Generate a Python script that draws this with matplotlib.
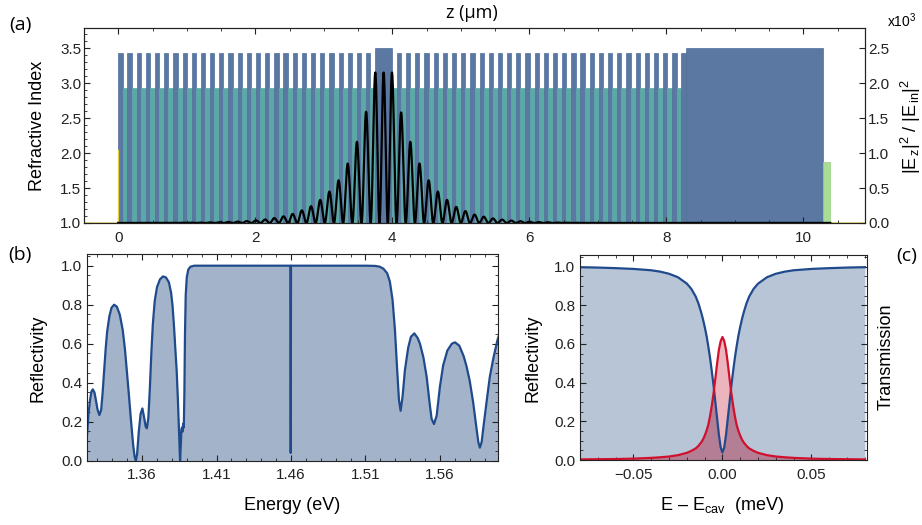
import numpy as np
import matplotlib.pyplot as plt
from matplotlib.ticker import MultipleLocator, FixedLocator, FuncFormatter

plt.rcParams['font.family'] = ['Liberation Sans', 'DejaVu Sans']
plt.rcParams['mathtext.fontset'] = 'custom'
plt.rcParams['mathtext.rm'] = 'Liberation Sans'
plt.rcParams['mathtext.it'] = 'Liberation Sans'
plt.rcParams['mathtext.default'] = 'regular'

W, H = 922, 525

# ---- (a) layer stack (thickness in um) ----
n_high, n_low, n_cav, n_sub, n_cap = 3.43, 2.93, 3.50, 3.50, 1.87
d_high, d_low, d_cav, d_sub, d_cap = 0.062, 0.072, 0.243, 2.0, 0.11
pairs_front, pairs_back = 28, 32

# |E_z|^2/|E_in|^2 antinode heights (x10^3), going outwards from the cavity
peaks_cavity = [2.15, 2.15, 2.15]
peaks_front = [1.59, 1.16, 0.85, 0.61, 0.45, 0.33, 0.24, 0.18, 0.13, 0.095,
               0.07, 0.05, 0.037, 0.027, 0.02, 0.015, 0.011, 0.008, 0.006, 0.005,
               0.004, 0.003, 0.003, 0.002, 0.002, 0.002, 0.002, 0.002]
peaks_back = [1.58, 1.16, 0.85, 0.61, 0.45, 0.33, 0.23, 0.17, 0.12, 0.09,
              0.065, 0.048, 0.035, 0.025, 0.018, 0.013, 0.01, 0.007, 0.005, 0.004,
              0.003, 0.002, 0.002, 0.002, 0.001, 0.001, 0.001, 0.001, 0.001, 0.001,
              0.001, 0.001]
field_substrate = 0.001

# ---- (b) reflectivity spectrum ----
energy_b = [1.3230, 1.3240, 1.3250, 1.3260, 1.3269, 1.3280, 1.3290, 1.3300, 1.3313, 1.3325,
            1.3335, 1.3345, 1.3355, 1.3365, 1.3380, 1.3395, 1.3412, 1.3430, 1.3450, 1.3470,
            1.3485, 1.3497, 1.3510, 1.3525, 1.3540, 1.3550, 1.3558, 1.3566, 1.3578, 1.3590,
            1.3602, 1.3614, 1.3624, 1.3632, 1.3642, 1.3652, 1.3662, 1.3672, 1.3685, 1.3700,
            1.3720, 1.3740, 1.3760, 1.3780, 1.3795, 1.3805, 1.3815, 1.3825, 1.3832, 1.3840,
            1.3848, 1.3855, 1.3860, 1.3864, 1.3868, 1.3872, 1.3876, 1.3880, 1.3884, 1.3888,
            1.3893, 1.3900, 1.3910, 1.3925, 1.3950, 1.4596, 1.4598, 1.4600, 1.5100, 1.5164,
            1.5195, 1.5220, 1.5246, 1.5264, 1.5282, 1.5298, 1.5313, 1.5325, 1.5336, 1.5349,
            1.5365, 1.5387, 1.5405, 1.5428, 1.5450, 1.5466, 1.5489, 1.5511, 1.5530, 1.5544,
            1.5560, 1.5578, 1.5600, 1.5622, 1.5650, 1.5680, 1.5701, 1.5730, 1.5760, 1.5779,
            1.5800, 1.5823, 1.5845, 1.5858, 1.5868, 1.5880, 1.5895, 1.5913, 1.5935, 1.5960,
            1.5987, 1.6000]
refl_b = [0.13, 0.24, 0.31, 0.355, 0.366, 0.35, 0.31, 0.265, 0.234, 0.26,
          0.35, 0.46, 0.57, 0.66, 0.74, 0.785, 0.80, 0.79, 0.75, 0.67,
          0.57, 0.465, 0.35, 0.21, 0.08, 0.02, 0.0, 0.03, 0.15, 0.24,
          0.268, 0.22, 0.175, 0.166, 0.22, 0.37, 0.55, 0.70, 0.82, 0.89,
          0.93, 0.945, 0.94, 0.915, 0.86, 0.79, 0.68, 0.55, 0.465, 0.32,
          0.15, 0.0, 0.08, 0.16, 0.17, 0.15, 0.19, 0.17, 0.35, 0.65,
          0.85, 0.94, 0.98, 0.995, 1.0, 1.0, 0.04, 1.0, 1.0, 0.999,
          0.995, 0.985, 0.961, 0.918, 0.824, 0.67, 0.465, 0.311, 0.256, 0.328,
          0.465, 0.58, 0.635, 0.653, 0.63, 0.60, 0.53, 0.43, 0.30, 0.215,
          0.188, 0.23, 0.38, 0.49, 0.565, 0.60, 0.607, 0.59, 0.535, 0.483,
          0.41, 0.30, 0.17, 0.095, 0.067, 0.095, 0.19, 0.30, 0.43, 0.53,
          0.62, 0.65]

# ---- (c) zoom on the cavity mode (E - E_cav in meV, one side, symmetric) ----
detuning = [0, 0.001, 0.002, 0.003, 0.004, 0.005, 0.006, 0.007, 0.008, 0.009,
            0.010, 0.011, 0.012, 0.0135, 0.015, 0.0175, 0.020, 0.025, 0.030, 0.035,
            0.040, 0.050, 0.060, 0.070, 0.080]
refl_c = [0.039, 0.065, 0.13, 0.215, 0.30, 0.385, 0.46, 0.53, 0.59, 0.645,
          0.69, 0.73, 0.765, 0.81, 0.845, 0.885, 0.912, 0.945, 0.963, 0.974,
          0.981, 0.988, 0.992, 0.995, 0.997]
trans_c = [0.636, 0.615, 0.57, 0.50, 0.42, 0.345, 0.28, 0.225, 0.18, 0.15,
           0.125, 0.105, 0.09, 0.073, 0.06, 0.047, 0.037, 0.025, 0.018, 0.014,
           0.011, 0.007, 0.005, 0.004, 0.003]

c_high = '#5a78a2'
c_low = '#5ba9a7'
c_cap = '#a9dd93'
c_air = '#f4eaa0'
c_line = '#1f4a8c'
c_red = '#d0102c'
c_fill_b = '#a3b3ca'
c_fill_c = '#b8c5d7'
c_pink = '#ecb5bd'
c_mauve = '#b47e94'
c_frame = '#222222'

TICK = 11


def fmt(spec):
    return FuncFormatter(lambda v, p: (spec % v).replace('-', '\u2212'))


def fpos(x, y):
    return x / W, 1 - y / H


def axes_px(l, t, r, b):
    return fig.add_axes([l / W, 1 - b / H, (r - l) / W, (b - t) / H])


def frame(ax, ypad=3.5, xpad=5.5):
    for s in ax.spines.values():
        s.set_linewidth(0.8)
        s.set_color(c_frame)
    ax.tick_params(which='both', direction='in', top=True, right=True,
                   labelsize=TICK, colors=c_frame)
    ax.tick_params(which='major', length=4, width=0.8)
    ax.tick_params(which='minor', length=2.3, width=0.6)
    ax.tick_params(axis='y', pad=ypad)
    ax.tick_params(axis='x', pad=xpad)


fig = plt.figure(figsize=(W / 100, H / 100), dpi=100)

# ================= (a) =================
ax = axes_px(84, 28, 865, 223)
kinds = ['H', 'L'] * pairs_front + ['C'] + ['L', 'H'] * pairs_back + ['S', 'G']
thick = {'H': d_high, 'L': d_low, 'C': d_cav, 'S': d_sub, 'G': d_cap}
index = {'H': n_high, 'L': n_low, 'C': n_cav, 'S': n_sub, 'G': n_cap}
fill = {'H': c_high, 'L': c_low, 'C': c_high, 'S': c_high, 'G': c_cap}
edge = {'H': '#4f6d98', 'L': c_low, 'C': '#4f6d98', 'S': '#4f6d98', 'G': '#98cf82'}
widths = np.array([thick[k] for k in kinds])
lefts = np.concatenate([[0], np.cumsum(widths)[:-1]])
heights = np.array([index[k] for k in kinds]) - 1
ax.bar(lefts, heights, width=widths, bottom=1, align='edge',
       color=[fill[k] for k in kinds], edgecolor=[edge[k] for k in kinds], linewidth=0.5)
z_end = lefts[-1] + widths[-1]
ax.bar([-0.5, z_end], [0.02, 0.02], width=[0.5, 10.9 - z_end], bottom=1, align='edge',
       color=c_air, edgecolor='#e8d86a', linewidth=0.5)
ax.plot([0, 0], [1, 2.05], color='#e6d23c', lw=0.9)

ax.set_xlim(-0.5, 10.9)
ax.set_ylim(1.0, 3.786)
frame(ax, ypad=2)
ax.tick_params(right=False, which='both')
ax.xaxis.set_major_locator(FixedLocator([0, 2, 4, 6, 8, 10]))
ax.xaxis.set_minor_locator(MultipleLocator(0.5))
ax.yaxis.set_major_locator(MultipleLocator(0.5))
ax.yaxis.set_minor_locator(MultipleLocator(0.1))
ax.yaxis.set_major_formatter(fmt('%.1f'))

# field profile: one cos^2 lobe per antinode
period = d_high + d_low
z_cs = pairs_front * period
z_ce = z_cs + d_cav
pk_z = [z_cs - k * period for k in range(len(peaks_front), 0, -1)]
pk_z += [z_cs, z_cs + d_cav / 2, z_ce]
pk_z += [z_ce + k * period for k in range(1, len(peaks_back) + 1)]
pk_h = peaks_front[::-1] + peaks_cavity + peaks_back
zz, ee = [], []
t = np.linspace(0, 1, 40, endpoint=False)
for i in range(len(pk_z) - 1):
    h = np.where(t < 0.5, pk_h[i], pk_h[i + 1])
    zz.append(pk_z[i] + t * (pk_z[i + 1] - pk_z[i]))
    ee.append(h * np.cos(np.pi * t) ** 2)
zz.append([pk_z[-1], z_end])
ee.append([pk_h[-1], field_substrate])
zz = np.concatenate(zz)
ee = np.concatenate(ee)

ax2 = ax.twinx()
ax2.plot(zz, ee, color='black', lw=1.6)
ax2.set_ylim(0, 2.786)
ax2.yaxis.set_major_locator(MultipleLocator(0.5))
ax2.yaxis.set_major_formatter(fmt('%.1f'))
ax2.tick_params(axis='y', direction='in', length=4, width=0.8, labelsize=TICK,
                pad=2.4, colors=c_frame)
for s in ax2.spines.values():
    s.set_linewidth(0.8)
    s.set_color(c_frame)

fig.text(*fpos(38, 125.5), 'Refractive Index', rotation=90, ha='center', va='center', fontsize=13)
fig.text(*fpos(472, 13), 'z (µm)', family=['Open Sans', 'DejaVu Sans'],
         ha='center', va='center', fontsize=13)
fig.text(*fpos(911, 127), r'$|E_{\,z}|^2\ /\ |E_{\,in}|^2$', rotation=90,
         ha='center', va='center', fontsize=13)
fig.text(*fpos(902, 21), r'x10$^3$', ha='center', va='center', fontsize=10)
fig.text(*fpos(20, 25), '(a)', family=['Open Sans', 'DejaVu Sans'],
         ha='center', va='center', fontsize=14)

# ================= (b) =================
bx = axes_px(87, 254, 498, 460.7)
bx.fill_between(energy_b, 0, refl_b, color=c_fill_b, lw=0)
bx.plot(energy_b, refl_b, color=c_line, lw=1.6)
bx.set_xlim(1.323, 1.599)
bx.set_ylim(0, 1.06)
frame(bx)
bx.xaxis.set_major_locator(FixedLocator([1.36, 1.41, 1.46, 1.51, 1.56]))
bx.xaxis.set_minor_locator(MultipleLocator(0.01))
bx.xaxis.set_major_formatter(fmt('%.2f'))
bx.yaxis.set_major_locator(MultipleLocator(0.2))
bx.yaxis.set_minor_locator(MultipleLocator(0.05))
bx.yaxis.set_major_formatter(fmt('%.1f'))
fig.text(*fpos(38, 358), 'Reflectivity', rotation=90, ha='center', va='center', fontsize=13)
fig.text(*fpos(292, 506), 'Energy (eV)', ha='center', va='center', fontsize=13)
fig.text(*fpos(20, 255), '(b)', family=['Open Sans', 'DejaVu Sans'],
         ha='center', va='center', fontsize=14)

# ================= (c) =================
dx = np.array(detuning)
x_c = np.concatenate([-dx[::-1], dx[1:]])
r_c = np.concatenate([np.array(refl_c)[::-1], np.array(refl_c)[1:]])
t_c = np.concatenate([np.array(trans_c)[::-1], np.array(trans_c)[1:]])
cx = axes_px(580, 255, 866.7, 460)
cx.fill_between(x_c, 0, r_c, color=c_fill_c, lw=0)
cx.fill_between(x_c, r_c, t_c, where=t_c > r_c, interpolate=True, color=c_pink, lw=0)
cx.fill_between(x_c, 0, np.minimum(r_c, t_c), color=c_mauve, lw=0)
cx.plot(x_c, r_c, color=c_line, lw=1.6)
cx.plot(x_c, t_c, color=c_red, lw=1.6)
cx.set_xlim(-0.08, 0.081)
cx.set_ylim(0, 1.06)
frame(cx)
cx.xaxis.set_major_locator(FixedLocator([-0.05, 0.0, 0.05]))
cx.xaxis.set_minor_locator(MultipleLocator(0.01))
cx.xaxis.set_major_formatter(fmt('%.2f'))
cx.yaxis.set_major_locator(MultipleLocator(0.2))
cx.yaxis.set_minor_locator(MultipleLocator(0.05))
cx.yaxis.set_major_formatter(fmt('%.1f'))
fig.text(*fpos(533, 358), 'Reflectivity', rotation=90, ha='center', va='center', fontsize=13)
fig.text(*fpos(886, 357), 'Transmission', rotation=90, ha='center', va='center', fontsize=13)
fig.text(*fpos(722, 505), 'E – E$_{cav}$  (meV)', ha='center', va='center', fontsize=13)
fig.text(*fpos(907, 256), '(c)', family=['Open Sans', 'DejaVu Sans'],
         ha='center', va='center', fontsize=14)

fig.savefig('out.png', dpi=100)
